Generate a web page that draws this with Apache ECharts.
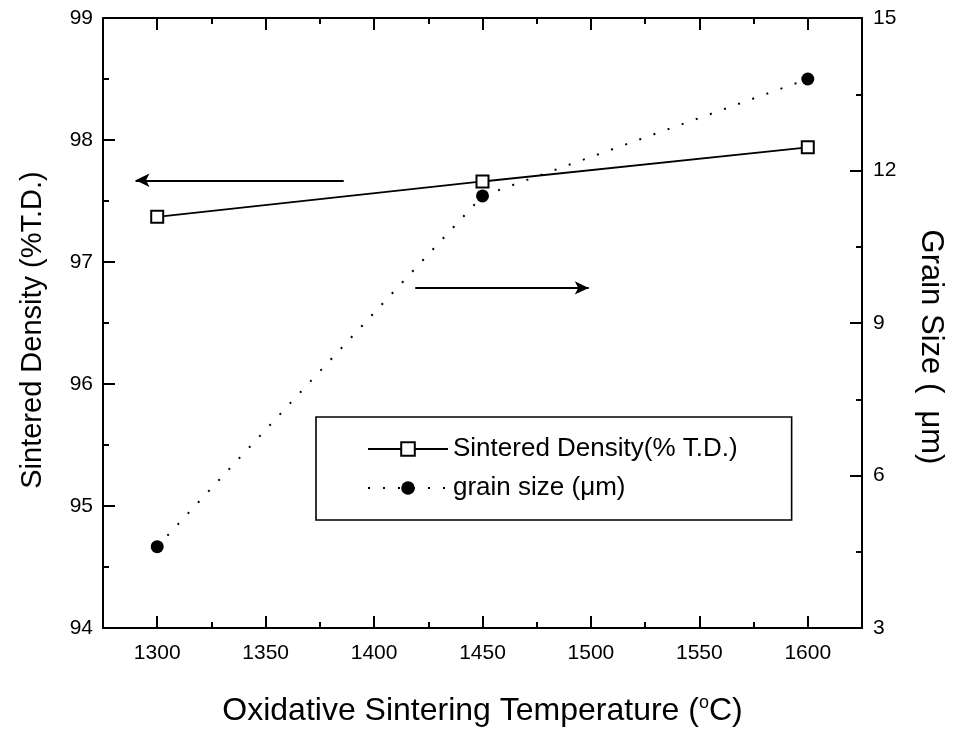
<!DOCTYPE html>
<html><head><meta charset="utf-8">
<script src="https://cdn.jsdelivr.net/npm/echarts@6/dist/echarts.min.js"></script>
<style>html,body{margin:0;padding:0;background:#fff}#c{width:954px;height:735px}</style>
</head><body><div id="c"></div>
<script>
const temps = [1300, 1450, 1600];
const density = [97.37, 97.66, 97.94];
const grain = [4.6, 11.5, 13.8];
const arrowLeft = [[1386, 97.67], [1290, 97.67]];
const arrowRight = [[1419, 9.69], [1499, 9.69]];

const FONT = 'Liberation Sans, Arial, sans-serif';
const chart = echarts.init(document.getElementById('c'));
const axisLine = {show: true, onZero: false, lineStyle: {color: '#000', width: 2}};
const tick = {show: true, inside: true, length: 12, lineStyle: {color: '#000', width: 2}};
const minor = {show: true, splitNumber: 2, length: 6, lineStyle: {color: '#000', width: 2}};
chart.setOption({
  animation: false,
  backgroundColor: '#fff',
  grid: {left: 103, right: 92, top: 18, bottom: 107},
  legend: {
    orient: 'vertical', left: 316, top: 417,
    padding: [19, 54, 19, 51], itemGap: 13, itemWidth: 80, itemHeight: 17,
    borderColor: '#000', borderWidth: 1.6, borderRadius: 0,
    textStyle: {fontFamily: FONT, fontSize: 26, color: '#000'},
    data: ['Sintered Density(% T.D.)', 'grain size (μm)']
  },
  xAxis: [{
    type: 'value', min: 1275, max: 1625, splitNumber: 7, position: 'bottom',
    axisLine, axisTick: tick, minorTick: minor, splitLine: {show: false},
    axisLabel: {fontFamily: FONT, fontSize: 21, color: '#000', margin: 15, showMinLabel: false, showMaxLabel: false,
      formatter: v => (v % 50 === 0 ? String(v) : '')},
    name: 'Oxidative Sintering Temperature ({s|o}C)', nameLocation: 'middle', nameGap: 66,
    nameTextStyle: {fontFamily: FONT, fontSize: 32, color: '#000', rich: {s: {fontFamily: FONT, fontSize: 18, color: '#000', verticalAlign: 'top', padding: [0, 0, 16, 0]}}}
  }, {
    type: 'value', min: 1275, max: 1625, splitNumber: 7, position: 'top',
    axisLine, axisTick: tick, minorTick: minor, splitLine: {show: false},
    axisLabel: {show: false}
  }],
  yAxis: [{
    type: 'value', min: 94, max: 99, interval: 1, position: 'left',
    axisLine, axisTick: tick, minorTick: minor, splitLine: {show: false},
    axisLabel: {fontFamily: FONT, fontSize: 21, color: '#000', margin: 10},
    name: 'Sintered Density (%T.D.)', nameLocation: 'middle', nameRotate: 90, nameGap: 56,
    nameTextStyle: {fontFamily: FONT, fontSize: 29, color: '#000', padding: [0, 14, 0, 0]}
  }, {
    type: 'value', min: 3, max: 15, interval: 3, position: 'right',
    axisLine, axisTick: tick, minorTick: minor, splitLine: {show: false},
    axisLabel: {fontFamily: FONT, fontSize: 21, color: '#000', margin: 11},
    name: 'Grain Size (  μm)', nameLocation: 'middle', nameRotate: -90, nameGap: 53,
    nameTextStyle: {fontFamily: FONT, fontSize: 31, color: '#000', padding: [0, 0, 0, 48]}
  }],
  series: [{
    name: 'Sintered Density(% T.D.)', type: 'line', xAxisIndex: 0, yAxisIndex: 0,
    data: temps.map((t, i) => [t, density[i]]),
    symbol: 'rect', symbolSize: 12, showSymbol: true,
    itemStyle: {color: '#fff', borderColor: '#000', borderWidth: 2},
    lineStyle: {color: '#000', width: 1.8, type: 'solid'},
    markLine: {silent: true, symbol: ['none', 'arrow'], symbolSize: [10, 14], label: {show: false},
      lineStyle: {color: '#000', width: 2, type: 'solid'},
      data: [[{coord: arrowLeft[0]}, {coord: arrowLeft[1]}]]}
  }, {
    name: 'grain size (μm)', type: 'line', xAxisIndex: 0, yAxisIndex: 1,
    data: temps.map((t, i) => [t, grain[i]]),
    symbol: 'circle', symbolSize: 13, showSymbol: true,
    itemStyle: {color: '#000', borderColor: '#000', borderWidth: 0},
    lineStyle: {color: '#000', width: 2, type: [2, 13]},
    markLine: {silent: true, symbol: ['none', 'arrow'], symbolSize: [10, 14], label: {show: false},
      lineStyle: {color: '#000', width: 2, type: 'solid'},
      data: [[{coord: arrowRight[0]}, {coord: arrowRight[1]}]]}
  }]
});
</script>
</body></html>
